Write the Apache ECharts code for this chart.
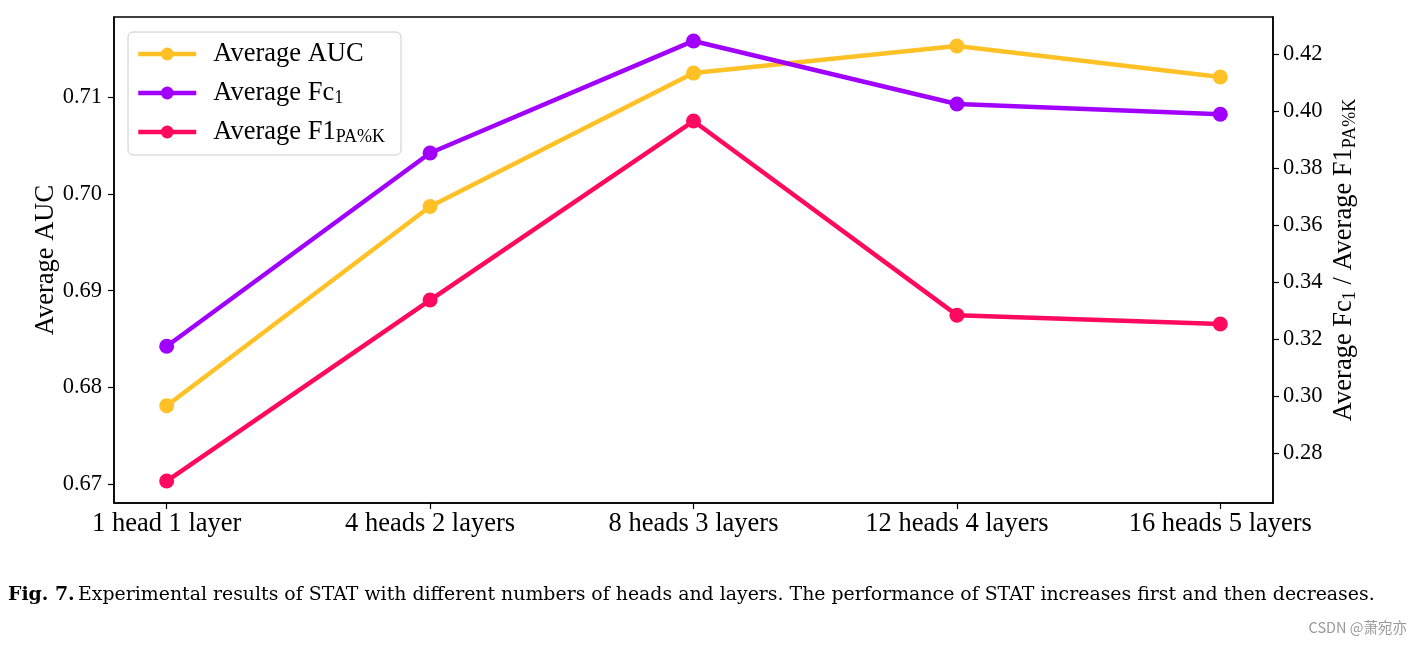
<!DOCTYPE html>
<html>
<head>
<meta charset="utf-8">
<script src="https://cdn.jsdelivr.net/npm/echarts@6/dist/echarts.min.js"></script>
<style>
html,body{margin:0;padding:0;background:#fff;}
#c{width:1423px;height:645px;}
</style>
</head>
<body>
<div id="c"></div>
<script>
const categories = ['1 head 1 layer', '4 heads 2 layers', '8 heads 3 layers', '12 heads 4 layers', '16 heads 5 layers'];
const aucValues = [0.6781, 0.6987, 0.7125, 0.7153, 0.7121];
const fc1Values = [0.3175, 0.3853, 0.4246, 0.4025, 0.3989];
const f1pakValues = [0.2702, 0.3337, 0.3965, 0.3284, 0.3253];
const leftTicks = [0.67, 0.68, 0.69, 0.70, 0.71];
const rightTicks = [0.28, 0.30, 0.32, 0.34, 0.36, 0.38, 0.40, 0.42];
const caption = 'Experimental results of STAT with different numbers of heads and layers. The performance of STAT increases first and then decreases.';

const FONT = '"Liberation Serif", "Times New Roman", serif';
const CAPFONT = '"DejaVu Serif", serif';
const colors = ['#FFC125', '#A100FF', '#FF0A5E'];
const chart = echarts.init(document.getElementById('c'), null, {renderer: 'canvas'});

function pairs(arr) { return arr.map((v, i) => [i, v]); }

const subStyle = {fontFamily: FONT, fontSize: 18, color: '#000', verticalAlign: 'bottom', padding: [12, 0, 0, 0]};
const mainStyle = {fontFamily: FONT, fontSize: 26.5, color: '#000'};

const series = [
  {name: 'Average AUC', data: pairs(aucValues), yAxisIndex: 0, color: colors[0]},
  {name: 'Average Fc1', data: pairs(fc1Values), yAxisIndex: 1, color: colors[1]},
  {name: 'Average F1PA%K', data: pairs(f1pakValues), yAxisIndex: 1, color: colors[2]}
].map(s => ({
  name: s.name, type: 'line', data: s.data, yAxisIndex: s.yAxisIndex,
  symbol: 'circle', symbolSize: 15, showSymbol: true,
  lineStyle: {width: 4.5, color: s.color},
  itemStyle: {color: s.color},
  emphasis: {disabled: true}, animation: false
}));

const option = {
  backgroundColor: '#fff',
  animation: false,
  grid: {left: 114, right: 150, top: 17, bottom: 142, show: true, borderColor: '#000', borderWidth: 1.5, backgroundColor: 'transparent'},
  legend: {
    left: 128, top: 32, orient: 'vertical',
    padding: [8, 16, 9, 8],
    itemWidth: 58, itemHeight: 16, itemGap: 11,
    borderColor: '#cccccc', borderWidth: 1, borderRadius: 5,
    backgroundColor: 'rgba(255,255,255,0.8)',
    lineStyle: {width: 4.5},
    data: ['Average AUC', 'Average Fc1', 'Average F1PA%K'],
    formatter: function (name) {
      if (name === 'Average Fc1') return '{m|Average Fc}{s|1}';
      if (name === 'Average F1PA%K') return '{m|Average F1}{s|PA%K}';
      return '{m|' + name + '}';
    },
    textStyle: {fontFamily: FONT, fontSize: 26.5, color: '#000', padding: [0, 0, 0, 12], lineHeight: 28,
      rich: {m: mainStyle, s: subStyle}}
  },
  xAxis: {
    type: 'value', min: -0.2, max: 4.2,
    axisLine: {show: true, onZero: false, lineStyle: {color: '#000', width: 1.5}},
    axisTick: {show: true, inside: false, length: 6, lineStyle: {color: '#000', width: 1.2}, customValues: [0, 1, 2, 3, 4]},
    axisLabel: {customValues: [0, 1, 2, 3, 4], fontFamily: FONT, fontSize: 26.5, color: '#000', margin: 8,
      formatter: v => categories[Math.round(v)] || ''},
    splitLine: {show: false}
  },
  yAxis: [
    {
      type: 'value', position: 'left', min: 0.66804, max: 0.7183,
      name: 'Average AUC', nameLocation: 'middle', nameGap: 54, nameRotate: 90, nameMoveOverlap: false,
      nameTextStyle: {fontFamily: FONT, fontSize: 26.5, color: '#000'},
      axisLine: {show: true, onZero: false, lineStyle: {color: '#000', width: 1.5}},
      axisTick: {show: true, inside: false, length: 6, lineStyle: {color: '#000', width: 1.2}, customValues: leftTicks},
      axisLabel: {customValues: leftTicks, fontFamily: FONT, fontSize: 22.5, color: '#000', margin: 12,
        formatter: v => v.toFixed(2)},
      splitLine: {show: false}
    },
    {
      type: 'value', position: 'right', min: 0.2625, max: 0.433,
      name: '{m|Average Fc}{s|1}{m| / Average F1}{s|PA%K}', nameLocation: 'middle', nameGap: 56, nameRotate: 90, nameMoveOverlap: false,
      nameTextStyle: {fontFamily: FONT, fontSize: 26.5, color: '#000', rich: {m: mainStyle, s: subStyle}},
      axisLine: {show: true, onZero: false, lineStyle: {color: '#000', width: 1.5}},
      axisTick: {show: true, inside: false, length: 6, lineStyle: {color: '#000', width: 1.2}, customValues: rightTicks},
      axisLabel: {customValues: rightTicks, fontFamily: FONT, fontSize: 22.5, color: '#000', margin: 10,
        formatter: v => v.toFixed(2)},
      splitLine: {show: false}
    }
  ],
  series: series,
  graphic: [
    {
      type: 'text', left: 8, top: 586,
      style: {
        text: '{b|Fig. 7.} {r|' + caption + '}',
        rich: {
          b: {fontFamily: CAPFONT, fontSize: 18.9, fontWeight: 'bold', fill: '#000'},
          r: {fontFamily: CAPFONT, fontSize: 18.9, fill: '#000'}
        }
      }
    },
    {
      type: 'text', right: 16, top: 620,
      style: {text: 'CSDN @萧宛亦', fontFamily: '"Noto Sans CJK SC", "Noto Sans", sans-serif', fontSize: 14.5, fill: '#999'}
    }
  ]
};
chart.setOption(option);
</script>
</body>
</html>
